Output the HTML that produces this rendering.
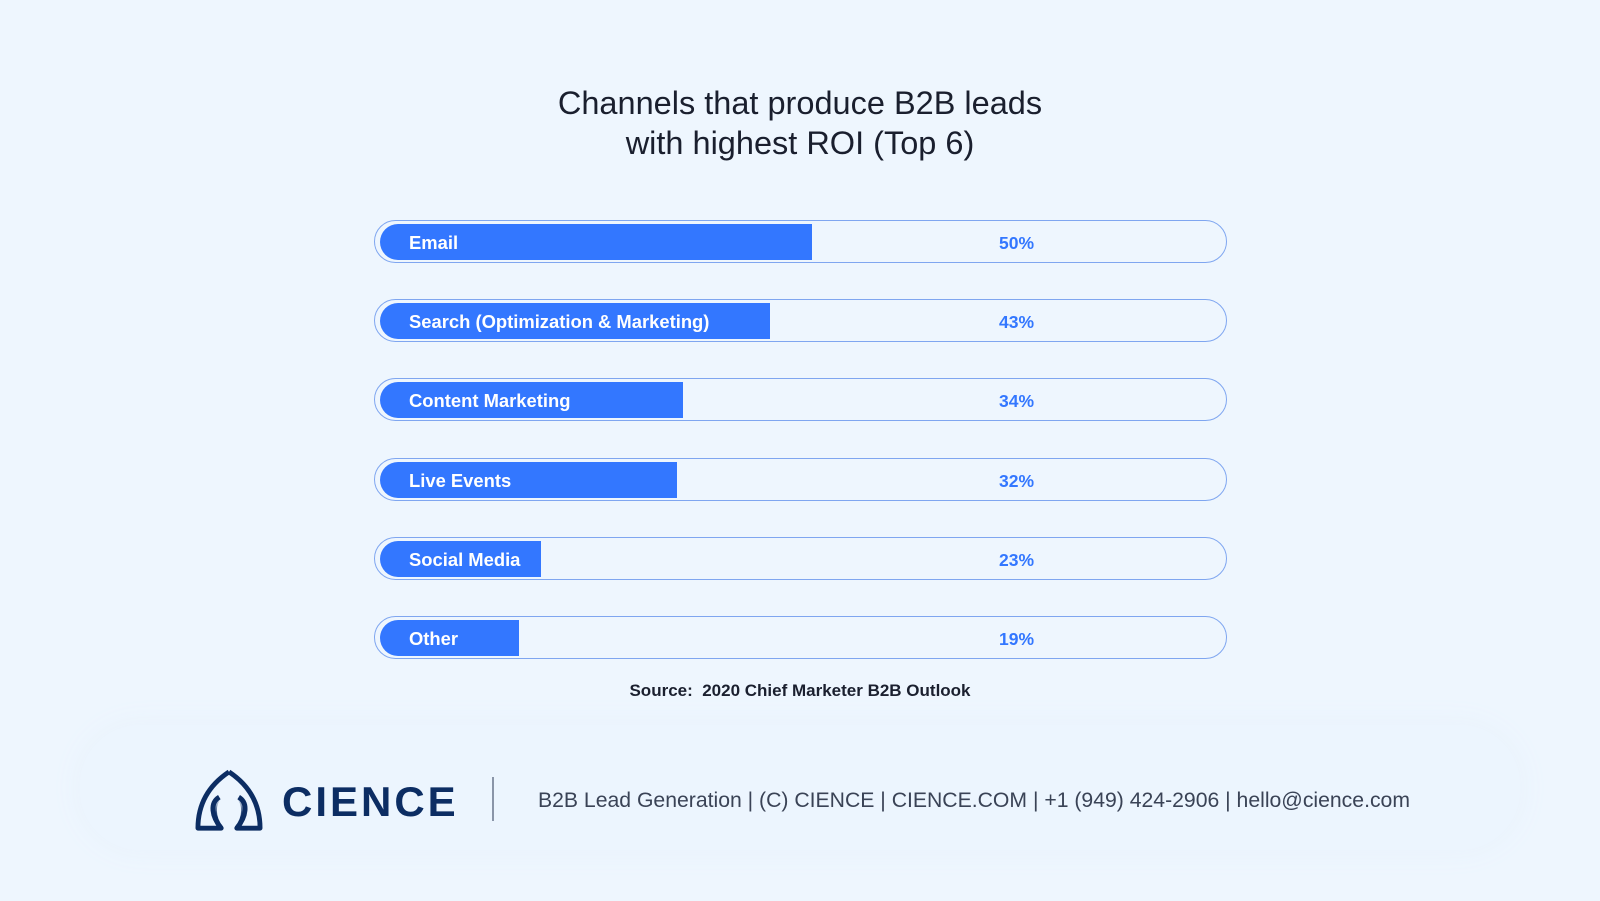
<!DOCTYPE html>
<html><head><meta charset="utf-8"><style>
body{margin:0;width:1600px;height:901px;background:#eef6fe;font-family:"Liberation Sans",sans-serif;position:relative;overflow:hidden}
.t{position:absolute;left:0;width:1600px;text-align:center;font-size:32.5px;color:#1a1f2e}
.row{position:absolute;left:374px;width:853px;height:43px;border:1.5px solid #7fa6f0;border-radius:22px;box-sizing:border-box}
.bar{position:absolute;left:5px;top:3px;height:36px;background:#3377ff;border-radius:18px 0 0 18px}
.lab{position:absolute;left:34px;top:1px;line-height:42px;color:#fff;font-weight:bold;font-size:18.4px;white-space:nowrap}
.pct{position:absolute;left:624px;top:1px;line-height:42px;color:#3377ff;font-weight:bold;font-size:17.5px}
.foot{position:absolute;left:80px;top:725px;width:1440px;height:125px;border-radius:60px;background:#ecf5fe;box-shadow:0 0 30px #e8f2fc}
</style></head><body>
<div class="t" style="top:85px">Channels that produce B2B leads</div>
<div class="t" style="top:125px">with highest ROI (Top 6)</div>

<div class="row" style="top:220px"><div class="bar" style="width:432px"></div><div class="lab">Email</div><div class="pct">50%</div></div>
<div class="row" style="top:299px"><div class="bar" style="width:390px"></div><div class="lab">Search (Optimization &amp; Marketing)</div><div class="pct">43%</div></div>
<div class="row" style="top:378px"><div class="bar" style="width:303px"></div><div class="lab">Content Marketing</div><div class="pct">34%</div></div>
<div class="row" style="top:458px"><div class="bar" style="width:297px"></div><div class="lab">Live Events</div><div class="pct">32%</div></div>
<div class="row" style="top:537px"><div class="bar" style="width:161px"></div><div class="lab">Social Media</div><div class="pct">23%</div></div>
<div class="row" style="top:616px"><div class="bar" style="width:139px"></div><div class="lab">Other</div><div class="pct">19%</div></div>

<div style="position:absolute;left:0;width:1600px;top:681px;text-align:center;font-size:17px;font-weight:bold;color:#1a1f2e">Source:&nbsp; 2020 Chief Marketer B2B Outlook</div>

<div class="foot"></div>
<svg style="position:absolute;left:192px;top:768px" width="74" height="66" viewBox="0 0 76 68">
<defs><linearGradient id="g" x1="0" y1="0" x2="0" y2="1"><stop offset="0" stop-color="#0c2d63" stop-opacity="0"/><stop offset="0.6" stop-color="#0c2d63"/></linearGradient></defs>
<path d="M38 4 C20 16 6 34 6 62 L30 62 C20 50 18 36 28 30" fill="none" stroke="#0c2d63" stroke-width="5" stroke-linejoin="round"/>
<path d="M38 4 C56 16 70 34 70 62 L46 62 C56 50 58 36 48 30" fill="none" stroke="#0c2d63" stroke-width="5" stroke-linejoin="round"/>
<path d="M28 30 C22 36 20 50 30 62 M48 30 C54 36 56 50 46 62" fill="none" stroke="url(#g)" stroke-width="5"/>
</svg>
<div style="position:absolute;left:282px;top:778px;font-size:42px;font-weight:bold;letter-spacing:3px;color:#0c2d63;line-height:48px">CIENCE</div>
<div style="position:absolute;left:492px;top:777px;width:1.5px;height:44px;background:#8a95a8"></div>
<div style="position:absolute;left:538px;top:787px;font-size:21.2px;color:#3a4356;line-height:28px;white-space:nowrap">B2B Lead Generation | (C) CIENCE | CIENCE.COM | +1 (949) 424-2906 | hello@cience.com</div>
</body></html>
